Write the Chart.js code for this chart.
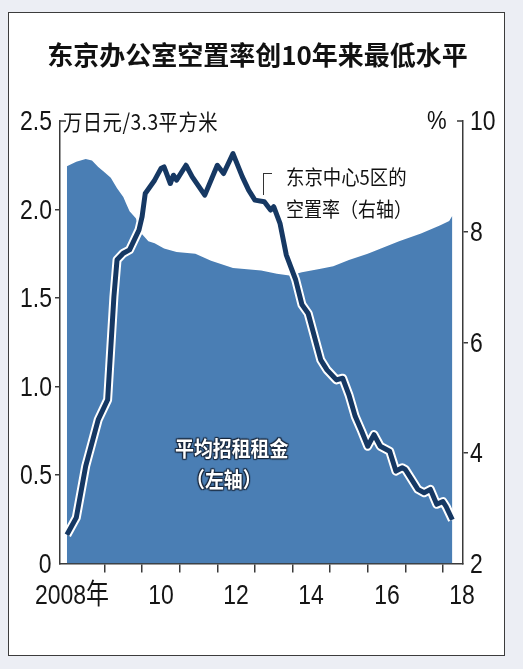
<!DOCTYPE html>
<html>
<head>
<meta charset="utf-8">
<script src="https://cdn.jsdelivr.net/npm/chart.js@4.4.1/dist/chart.umd.min.js"></script>
<style>
html, body { margin: 0; padding: 0; background: #eceef4; }
#wrap { position: relative; width: 523px; height: 669px; overflow: hidden; }
#card { position: absolute; left: 8px; top: 12px; width: 497px; height: 644px; background: #fff; border: 1.5px solid #3c3c3c; box-sizing: border-box; }
canvas { position: absolute; left: 0; top: 0; }
.t { position: absolute; white-space: nowrap; line-height: 1; font-family: "Noto Sans CJK SC", sans-serif; color: #111; transform-origin: left center; }
.num { position: absolute; white-space: nowrap; line-height: 1; font-family: "Liberation Sans", Arial, "Noto Sans CJK SC", sans-serif; font-size: 28px; color: #151515; }
#bracket { position: absolute; left: 263px; top: 173px; width: 8px; height: 21px; border-left: 1.5px solid #333; border-top: 1.5px solid #333; }
.inner { color: #fff; font-weight: bold; text-shadow: 1px 1px 1px #18263a, -1px -1px 1px #18263a, 1px -1px 1px #18263a, -1px 1px 1px #18263a, 0 0 2px #18263a; }
</style>
</head>
<body>
<div id="wrap">
  <div id="card"></div>
  <canvas id="chart" width="523" height="669"></canvas>
  <div class="t" style="left:-4px;width:523px;text-align:center;top:41px;font-size:26px;font-weight:bold;">东京办公室空置率创10年来最低水平</div>
  <div class="t" style="left:63px;top:109px;font-size:22px;letter-spacing:0.5px;transform:scaleX(0.88);">万日元/3.3平方米</div>
  <div class="t" style="left:427px;top:107px;font-size:26px;font-family:'Liberation Sans',Arial,sans-serif;transform:scaleX(0.85);">%</div>
  <div id="bracket"></div>
  <div class="t" style="left:286px;top:167px;font-size:20px;transform:scaleX(0.92);">东京中心5区的</div>
  <div class="t" style="left:286px;top:199px;font-size:20px;transform:scaleX(0.9);">空置率（右轴）</div>
  <div class="t inner" style="left:175px;top:437px;font-size:21px;transform:scaleX(0.9);">平均招租租金</div>
  <div class="t inner" style="left:186px;top:468px;font-size:21px;transform:scaleX(0.9);">（左轴）</div>
</div>
<script>
// months counted from Jan 2008 (0) to Apr 2018 (123)
const rentMonths = [0, 3, 6, 8, 10, 12, 14, 16, 18, 19, 20, 22, 23, 24, 26, 28, 31, 35, 41, 46, 53, 62, 67, 71, 75, 81, 85, 90, 96, 101, 106, 113, 119, 122, 123];
const rentValues = [2.245, 2.27, 2.286, 2.277, 2.24, 2.21, 2.18, 2.12, 2.07, 2.03, 1.99, 1.95, 1.90, 1.86, 1.82, 1.81, 1.78, 1.76, 1.75, 1.71, 1.67, 1.655, 1.637, 1.627, 1.646, 1.665, 1.68, 1.715, 1.75, 1.785, 1.82, 1.865, 1.91, 1.935, 1.965];

const vacancyMonths = [0, 3, 6, 10, 13, 15, 16, 18, 20, 23, 24, 25, 28, 30, 31, 33, 34, 35, 38, 40, 44, 48, 50, 53, 56, 58, 60, 63, 65, 66, 68, 70, 73, 75, 77, 81, 83, 86, 88, 90, 92, 94, 96, 98, 100, 103, 105, 107, 108, 110, 112, 114, 116, 118, 120, 121, 123];
const vacancyValues = [2.52, 2.83, 3.76, 4.60, 4.96, 6.82, 7.49, 7.61, 7.67, 8.03, 8.27, 8.69, 8.93, 9.14, 9.17, 8.87, 9.02, 8.93, 9.20, 8.99, 8.66, 9.20, 9.05, 9.41, 8.99, 8.75, 8.57, 8.54, 8.39, 8.45, 8.15, 7.58, 7.13, 6.68, 6.52, 5.68, 5.50, 5.32, 5.35, 5.05, 4.66, 4.40, 4.12, 4.33, 4.12, 4.03, 3.67, 3.73, 3.70, 3.52, 3.34, 3.28, 3.34, 3.07, 3.12, 3.03, 2.79];

const leftTicks = [0, 0.5, 1.0, 1.5, 2.0, 2.5];
const rightTicks = [2, 4, 6, 8, 10];
const yearStarts = [12, 24, 36, 48, 60, 72, 84, 96, 108, 120];
const yearLabelMonths = [1.6, 30, 54, 78, 102, 126];
const yearLabels = ["2008年", "10", "12", "14", "16", "18"];

const axisColor = "#3a3a3a";
const clear = "rgba(0,0,0,0)";

const topBrackets = {
  id: "topBrackets",
  afterDraw(chart) {
    const c = chart.ctx, a = chart.chartArea;
    c.save();
    c.strokeStyle = axisColor;
    c.lineWidth = 1.5;
    c.beginPath();
    c.moveTo(a.left, a.top); c.lineTo(a.left + 6, a.top);
    c.moveTo(a.right - 6, a.top); c.lineTo(a.right, a.top);
    c.stroke();
    c.restore();
  }
};

const rentPoints = rentMonths.map((m, i) => ({ x: m, y: rentValues[i] }));
const vacancyPoints = vacancyMonths.map((m, i) => ({ x: m, y: vacancyValues[i] }));

const chart = new Chart(document.getElementById("chart"), {
  type: "line",
  data: {
    datasets: [
      { data: rentPoints, yAxisID: "y", fill: "origin", backgroundColor: "#4a7eb4", borderWidth: 0, pointRadius: 0, order: 3 },
      { data: vacancyPoints, yAxisID: "y2", fill: false, borderColor: "#ffffff", borderWidth: 9, pointRadius: 0, borderJoinStyle: "round", order: 2 },
      { data: vacancyPoints, yAxisID: "y2", fill: false, borderColor: "#163863", borderWidth: 5, pointRadius: 0, borderJoinStyle: "round", order: 1 }
    ]
  },
  options: {
    responsive: false,
    animation: false,
    layout: { padding: { top: 121, left: 0, right: 0, bottom: 0 } },
    plugins: { legend: { display: false }, tooltip: { enabled: false } },
    scales: {
      x: {
        type: "linear",
        position: "bottom",
        min: -2.2,
        max: 126.4,
        afterBuildTicks: (s) => { s.ticks = yearStarts.map(v => ({ value: v })); },
        afterFit: (s) => { s.height = 669 - 563.5; },
        grid: { drawOnChartArea: false, drawTicks: true, tickLength: 9, lineWidth: 1.5, color: axisColor },
        border: { display: true, color: axisColor, width: 1.5 },
        ticks: { display: false }
      },
      y: {
        position: "left",
        min: 0,
        max: 2.5,
        afterBuildTicks: (s) => { s.ticks = leftTicks.map(v => ({ value: v })); },
        afterFit: (s) => { s.width = 60; },
        grid: {
          drawOnChartArea: false,
          tickLength: 5,
          lineWidth: 1.5,
          color: (ctx) => (ctx.tick && (ctx.tick.value === 2.5 || ctx.tick.value === 0)) ? clear : axisColor
        },
        border: { display: true, color: axisColor, width: 1.5 },
        ticks: { display: false }
      },
      y2: {
        position: "right",
        min: 2,
        max: 10,
        afterBuildTicks: (s) => { s.ticks = rightTicks.map(v => ({ value: v })); },
        afterFit: (s) => { s.width = 60; },
        grid: {
          drawOnChartArea: false,
          tickLength: 5,
          lineWidth: 1.5,
          color: (ctx) => (ctx.tick && (ctx.tick.value === 10 || ctx.tick.value === 2)) ? clear : axisColor
        },
        border: { display: true, color: axisColor, width: 1.5 },
        ticks: { display: false }
      }
    }
  },
  plugins: [topBrackets]
});

// tick labels as condensed text, placed with the chart's own scales
const wrap = document.getElementById("wrap");
function addLabel(text, x, y, align) {
  const d = document.createElement("div");
  d.className = "num";
  d.textContent = text;
  d.style.top = (y - 13.7) + "px";
  if (align === "right") {
    d.style.right = (523 - x) + "px";
    d.style.transformOrigin = "right center";
    d.style.transform = "scaleX(0.82)";
  } else if (align === "left") {
    d.style.left = x + "px";
    d.style.transformOrigin = "left center";
    d.style.transform = "scaleX(0.82)";
  } else {
    d.style.left = x + "px";
    d.style.transform = "translateX(-50%) scaleX(0.82)";
  }
  wrap.appendChild(d);
}
leftTicks.forEach(v => addLabel(v === 0 ? "0" : v.toFixed(1), chart.scales.y.left + 52, chart.scales.y.getPixelForValue(v), "right"));
rightTicks.forEach(v => addLabel(String(v), chart.scales.y2.left + 7, chart.scales.y2.getPixelForValue(v), "left"));
yearLabelMonths.forEach((m, i) => addLabel(yearLabels[i], chart.scales.x.getPixelForValue(m), 595, "center"));
</script>
</body>
</html>
